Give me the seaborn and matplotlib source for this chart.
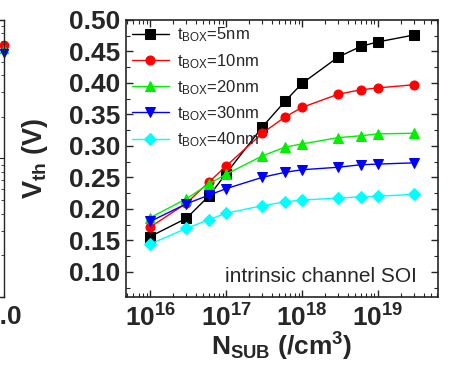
import numpy as np
import pandas as pd
import matplotlib
matplotlib.use("Agg")
import matplotlib.pyplot as plt
import matplotlib.ticker as mticker
import seaborn as sns

# substrate doping (/cm^3)
n_sub = [1e16, 3e16, 6e16, 1e17, 3e17, 6e17, 1e18, 3e18, 6e18, 1e19, 3e19]

# threshold voltage (V) for each BOX thickness
vth_5nm = [0.156, 0.185, 0.221, 0.256, 0.330, 0.371, 0.399, 0.441, 0.458, 0.465, 0.476]
vth_10nm = [0.171, 0.209, 0.243, 0.268, 0.320, 0.346, 0.361, 0.382, 0.389, 0.392, 0.397]
vth_20nm = [0.186, 0.216, 0.240, 0.255, 0.284, 0.298, 0.303, 0.313, 0.316, 0.319, 0.320]
vth_30nm = [0.180, 0.208, 0.222, 0.232, 0.250, 0.258, 0.262, 0.266, 0.270, 0.271, 0.273]
vth_40nm = [0.144, 0.169, 0.183, 0.193, 0.205, 0.211, 0.214, 0.217, 0.219, 0.220, 0.223]

labels = ["5nm", "10nm", "20nm", "30nm", "40nm"]
colors = ["black", "red", "#00f000", "blue", "cyan"]
markers = ["s", "o", "^", "v", "D"]

# neighbouring panel (only its right edge is visible)
left_x = [1.0, 1.0, 1.0]
left_y = [0.66, 0.62, 0.58]
left_colors = ["red", "#00f000", "blue"]
left_markers = ["o", "^", "v"]

sns.set_style("ticks")
plt.rcParams["font.family"] = ["Liberation Sans", "DejaVu Sans"]
plt.rcParams["mathtext.fontset"] = "custom"
plt.rcParams["mathtext.rm"] = "Liberation Sans"
plt.rcParams["mathtext.it"] = "Liberation Sans:italic"
plt.rcParams["mathtext.bf"] = "Liberation Sans:bold"
plt.rcParams["mathtext.default"] = "regular"

fig = plt.figure(figsize=(4.52, 3.68), dpi=100)

# cropped neighbour panel on the far left
ax0 = fig.add_axes([-0.4, 0.193, 0.409, 0.753])
for x, y, c, m in zip(left_x, left_y, left_colors, left_markers):
    ax0.plot([x], [y], marker=m, color=c, markersize=6, linestyle="none", clip_on=False)
ax0.set_yscale("log")
ax0.set_ylim(0.01, 1.0)
ax0.set_xlim(0.0, 1.0)
ax0.set_xticks([1.0])
ax0.set_xticklabels(["1.0"], fontsize=19, fontweight="bold")
ax0.tick_params(axis="y", which="both", direction="in", right=True, labelleft=False)
ax0.tick_params(axis="x", direction="in", length=3, pad=6)
ax0.yaxis.set_major_formatter(mticker.NullFormatter())
for s in ax0.spines.values():
    s.set_linewidth(1.0)

ax = fig.add_axes([0.279, 0.193, 0.690, 0.753])

series = [vth_5nm, vth_10nm, vth_20nm, vth_30nm, vth_40nm]
for vals, lab, c, m in zip(series, labels, colors, markers):
    df = pd.DataFrame({"N": n_sub, "Vth": vals})
    sns.lineplot(data=df, x="N", y="Vth", ax=ax, color=c, marker=m,
                 markersize=6.5, markeredgecolor=c, linewidth=1.0,
                 label=r"t$_{BOX}$=" + lab)

ax.set_xscale("log")
ax.set_xlim(4.8e15, 6.2e19)
ax.set_ylim(0.06, 0.50)
ax.set_xticks([1e16, 1e17, 1e18, 1e19])
ax.xaxis.set_major_formatter(mticker.FuncFormatter(
    lambda v, p: r"$\mathbf{10^{%d}}$" % round(np.log10(v))))
ax.xaxis.set_minor_locator(mticker.LogLocator(base=10, subs=np.arange(2, 10), numticks=20))
ax.xaxis.set_minor_formatter(mticker.NullFormatter())
ax.set_yticks(np.arange(0.10, 0.501, 0.05))
ax.yaxis.set_major_formatter(mticker.FormatStrFormatter("%.2f"))
ax.yaxis.set_minor_locator(mticker.MultipleLocator(0.025))

ax.tick_params(which="both", direction="in", top=True, right=True)
ax.tick_params(which="major", length=5, width=1.0, labelsize=19)
ax.tick_params(which="minor", length=3, width=0.8)
ax.tick_params(axis="x", pad=5)
ax.tick_params(axis="y", pad=4)
for t in ax.get_yticklabels():
    t.set_fontweight("bold")
for s in ax.spines.values():
    s.set_linewidth(1.2)

ax.set_xlabel(r"$\mathbf{N_{SUB}}$ (/cm$\mathbf{^3}$)", fontsize=19, fontweight="bold", labelpad=0)
ax.set_ylabel(r"$\mathbf{V_{th}}$ (V)", fontsize=19.5, fontweight="bold", labelpad=14)

ax.text(0.933, 0.054, "intrinsic channel SOI", transform=ax.transAxes,
        ha="right", va="baseline", fontsize=15)

leg = ax.legend(loc="upper left", frameon=False, fontsize=12, handlelength=2.2,
                handletextpad=0.5, labelspacing=0.45, borderaxespad=0.15,
                borderpad=0.2)

fig.savefig("out.png", dpi=100)
